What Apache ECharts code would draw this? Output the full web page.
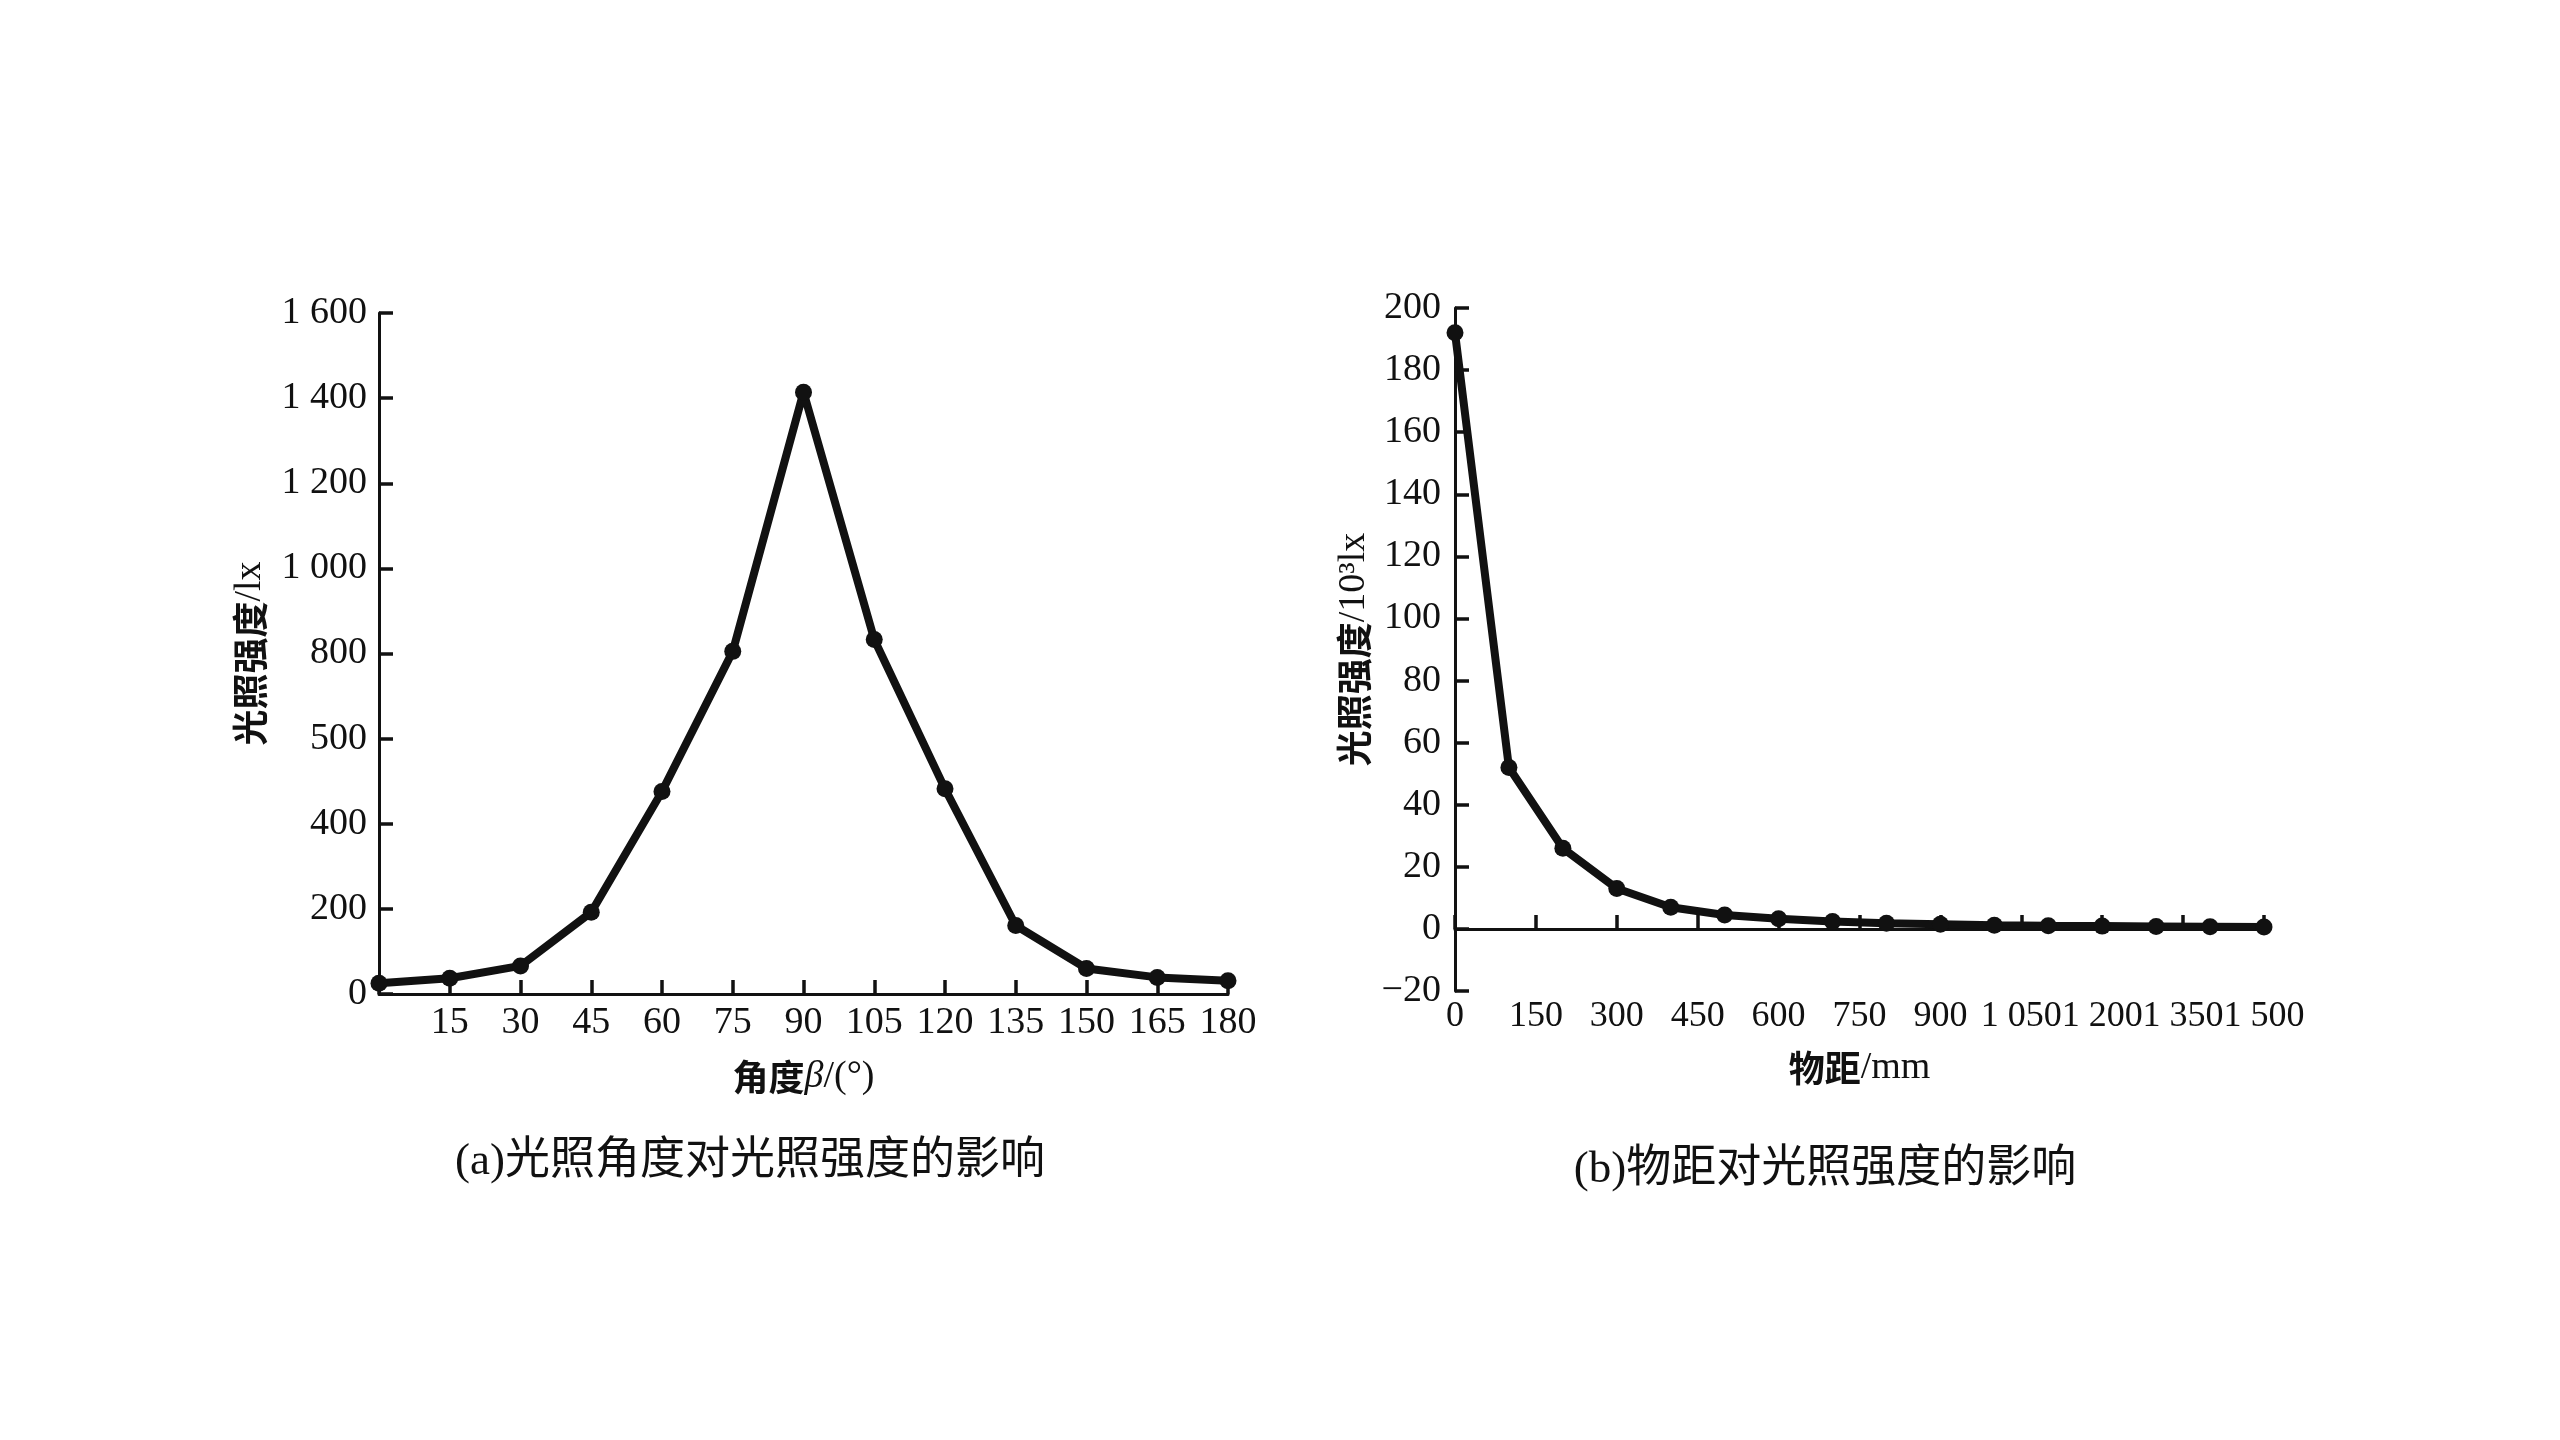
<!DOCTYPE html>
<html>

<head>
  <meta charset="utf-8">
  <style>
    html,
    body {
      width: 100%;
      height: 100%;
      margin: 0;
      padding: 0;
      overflow: hidden;
      background-color: #fff;
    }

    #container {
      width: 100%;
      height: 100%;
      position: absolute;
      top: 0;
      left: 0;
    }
  </style>
</head>

<body>
  <div id="container"></div>

  <script src="https://cdn.jsdelivr.net/npm/echarts@6/dist/echarts.min.js"></script>
  <script>
    // (a) 光照角度 -> 光照强度
    var angles = [0, 15, 30, 45, 60, 75, 90, 105, 120, 135, 150, 165, 180];
    var angleLux = [25, 37, 66, 192, 476, 805, 1414, 833, 482, 161, 60, 39, 31];
    var luxTickLabels = ['0', '200', '400', '500', '800', '1 000', '1 200', '1 400', '1 600'];

    // (b) 物距 -> 光照强度 (10^3 lx)
    var distances = [0, 100, 200, 300, 400, 500, 600, 700, 800, 900, 1000, 1100, 1200, 1300, 1400, 1500];
    var distLux = [192, 52, 26, 13, 7, 4.5, 3.3, 2.4, 1.8, 1.5, 1.2, 1.0, 0.9, 0.8, 0.7, 0.6];
    var distTickLabels = ['0', '150', '300', '450', '600', '750', '900', '1 050', '1 200', '1 350', '1 500'];

    var serif = '"Liberation Serif", "Noto Sans CJK SC", serif';
    var black = '#111';

    function pairs(xs, ys) {
      return xs.map(function (x, i) { return [x, ys[i]]; });
    }

    var axisLine = { show: true, lineStyle: { color: black, width: 3 } };
    var axisTickIn = { show: true, inside: true, length: 14, lineStyle: { color: black, width: 3.5 } };
    var labelStyle = { color: black, fontFamily: serif, fontSize: 38, showMinLabel: true, showMaxLabel: true, hideOverlap: false };
    var nameRich = {
      c: { fontFamily: '"Noto Sans CJK SC", sans-serif', fontWeight: 'bold', fontSize: 36, color: black },
      i: { fontFamily: serif, fontStyle: 'italic', fontSize: 38, color: black }
    };
    var nameStyle = { color: black, fontFamily: serif, fontSize: 38, rich: nameRich };

    var chart = echarts.init(document.getElementById('container'));

    chart.setOption({
      backgroundColor: '#fff',
      animation: false,
      title: [{
        text: '(a)光照角度对光照强度的影响',
        left: 745,
        top: 1135,
        textAlign: 'center',
        textStyle: { fontFamily: serif, fontWeight: 'normal', fontSize: 45, color: black }
      }, {
        text: '(b)物距对光照强度的影响',
        left: 1820,
        top: 1143,
        textAlign: 'center',
        textStyle: { fontFamily: serif, fontWeight: 'normal', fontSize: 45, color: black }
      }],
      grid: [
        { left: 379, top: 313, width: 849, height: 681 },
        { left: 1455, top: 308, width: 809, height: 683 }
      ],
      xAxis: [{
        gridIndex: 0,
        type: 'value',
        min: 0,
        max: 180,
        interval: 15,
        name: '{c|角度}{i|β}/(°)',
        nameLocation: 'middle',
        nameGap: 64,
        nameTextStyle: nameStyle,
        axisLine: axisLine,
        axisTick: axisTickIn,
        splitLine: { show: false },
        axisLabel: Object.assign({}, labelStyle, {
          margin: 10,
          formatter: function (v) { return v === 0 ? '' : String(v); }
        })
      }, {
        gridIndex: 1,
        type: 'value',
        min: 0,
        max: 1500,
        interval: 150,
        name: '{c|物距}/mm',
        nameLocation: 'middle',
        nameGap: 58,
        nameTextStyle: nameStyle,
        axisLine: axisLine,
        axisTick: axisTickIn,
        splitLine: { show: false },
        axisLabel: Object.assign({}, labelStyle, {
          margin: 8,
          fontSize: 36,
          formatter: function (v) { return distTickLabels[Math.round(v / 150)]; }
        })
      }],
      yAxis: [{
        gridIndex: 0,
        type: 'value',
        min: 0,
        max: 1600,
        interval: 200,
        name: '{c|光照强度}/lx',
        nameLocation: 'middle',
        nameGap: 110,
        nameTextStyle: nameStyle,
        axisLine: axisLine,
        axisTick: axisTickIn,
        splitLine: { show: false },
        axisLabel: Object.assign({}, labelStyle, {
          margin: 12,
          formatter: function (v) { return luxTickLabels[Math.round(v / 200)]; }
        })
      }, {
        gridIndex: 1,
        type: 'value',
        min: -20,
        max: 200,
        interval: 20,
        name: '{c|光照强度}/10³lx',
        nameLocation: 'middle',
        nameGap: 82,
        nameTextStyle: nameStyle,
        axisLine: axisLine,
        axisTick: axisTickIn,
        splitLine: { show: false },
        axisLabel: Object.assign({}, labelStyle, {
          margin: 14,
          formatter: function (v) { return String(v).replace('-', '−'); }
        })
      }],
      series: [{
        type: 'line',
        xAxisIndex: 0,
        yAxisIndex: 0,
        data: pairs(angles, angleLux),
        symbol: 'circle',
        symbolSize: 17,
        lineStyle: { color: black, width: 8 },
        itemStyle: { color: black },
        clip: false
      }, {
        type: 'line',
        xAxisIndex: 1,
        yAxisIndex: 1,
        data: pairs(distances, distLux),
        symbol: 'circle',
        symbolSize: 17,
        lineStyle: { color: black, width: 8 },
        itemStyle: { color: black },
        clip: false
      }]
    });

    window.addEventListener('resize', function () {
      chart.resize();
    });
  </script>
</body>

</html>
